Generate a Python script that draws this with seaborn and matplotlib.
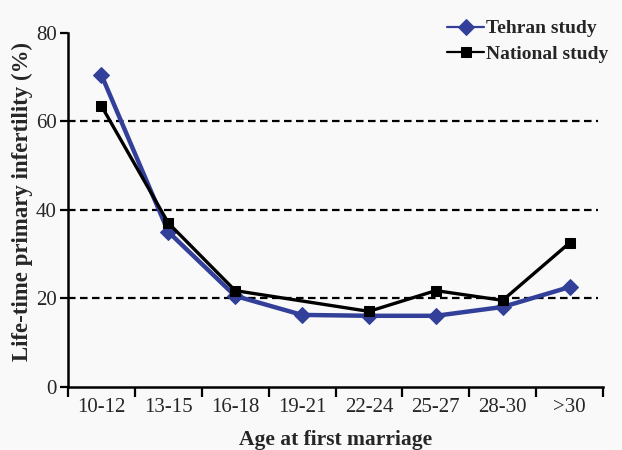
import numpy as np
import pandas as pd
import matplotlib
matplotlib.use("Agg")
import matplotlib.pyplot as plt
import seaborn as sns

categories = ["10-12", "13-15", "16-18", "19-21", "22-24", "25-27", "28-30", ">30"]
tehran = [70.5, 35.0, 20.5, 16.2, 16.0, 16.0, 18.0, 22.5]
national = [63.5, 37.0, 21.7, np.nan, 17.0, 21.7, 19.5, 32.5]
yticks = [0, 20, 40, 60, 80]

sns.set_style("ticks")
plt.rcParams["font.family"] = ["Liberation Serif", "DejaVu Serif"]

bg = "#f9f9f9"
fig = plt.figure(figsize=(6.22, 4.5), dpi=100, facecolor=bg)
ax = fig.add_axes([68 / 622, 1 - 386.5 / 450, (603 - 68) / 622, (386.5 - 33) / 450])
ax.set_facecolor(bg)

df_t = pd.DataFrame({"x": np.arange(len(categories)), "y": tehran}).dropna()
df_n = pd.DataFrame({"x": np.arange(len(categories)), "y": national}).dropna()

for yv in yticks[1:4]:
    ax.axhline(yv, xmin=0, xmax=0.99, color="black", lw=1.6, ls=(0, (3.4, 2.0)), zorder=1)

sns.lineplot(data=df_t, x="x", y="y", ax=ax, color="#33409a", lw=3.2, marker="D",
             markersize=8.5, markeredgecolor="#33409a", label="Tehran study", zorder=3)
sns.lineplot(data=df_n, x="x", y="y", ax=ax, color="black", lw=2.4, marker="s",
             markersize=7.5, markeredgecolor="black", label="National study", zorder=4)

ax.set_xlim(-0.5, len(categories) - 0.5)
ax.set_ylim(0, 80)
ax.set_yticks(yticks)
ax.set_yticklabels([str(v) for v in yticks], fontsize=15)
ax.set_xticks(np.arange(len(categories) + 1) - 0.5)
ax.set_xticklabels([])
ax.set_xticks(np.arange(len(categories)), minor=True)
ax.set_xticklabels(categories, minor=True, fontsize=15)
ax.tick_params(axis="x", which="minor", length=0, pad=8)
ax.tick_params(axis="x", which="major", length=7, width=1.6, color="black")
ax.tick_params(axis="y", length=6, width=1.6, color="black", pad=2)

for s in ["top", "right"]:
    ax.spines[s].set_visible(False)
for s in ["left", "bottom"]:
    ax.spines[s].set_linewidth(1.8)
    ax.spines[s].set_color("black")

ax.set_xlabel("Age at first marriage", fontsize=15.5, fontweight="bold", labelpad=10)
ax.set_ylabel("Life-time primary infertility (%)", fontsize=16.5, fontweight="bold")
ax.yaxis.set_label_coords(-0.066, 0.522)

leg = ax.legend(loc="upper right", bbox_to_anchor=(616 / 622, 1 - 12 / 450),
                bbox_transform=fig.transFigure, frameon=False,
                prop={"family": "Liberation Serif", "weight": "bold", "size": 14},
                handlelength=1.9, handletextpad=0.1, labelspacing=0.4, borderaxespad=0)
for line in leg.get_lines():
    line.set_linewidth(1.6)

fig.savefig("out.png", dpi=100, facecolor=bg)
